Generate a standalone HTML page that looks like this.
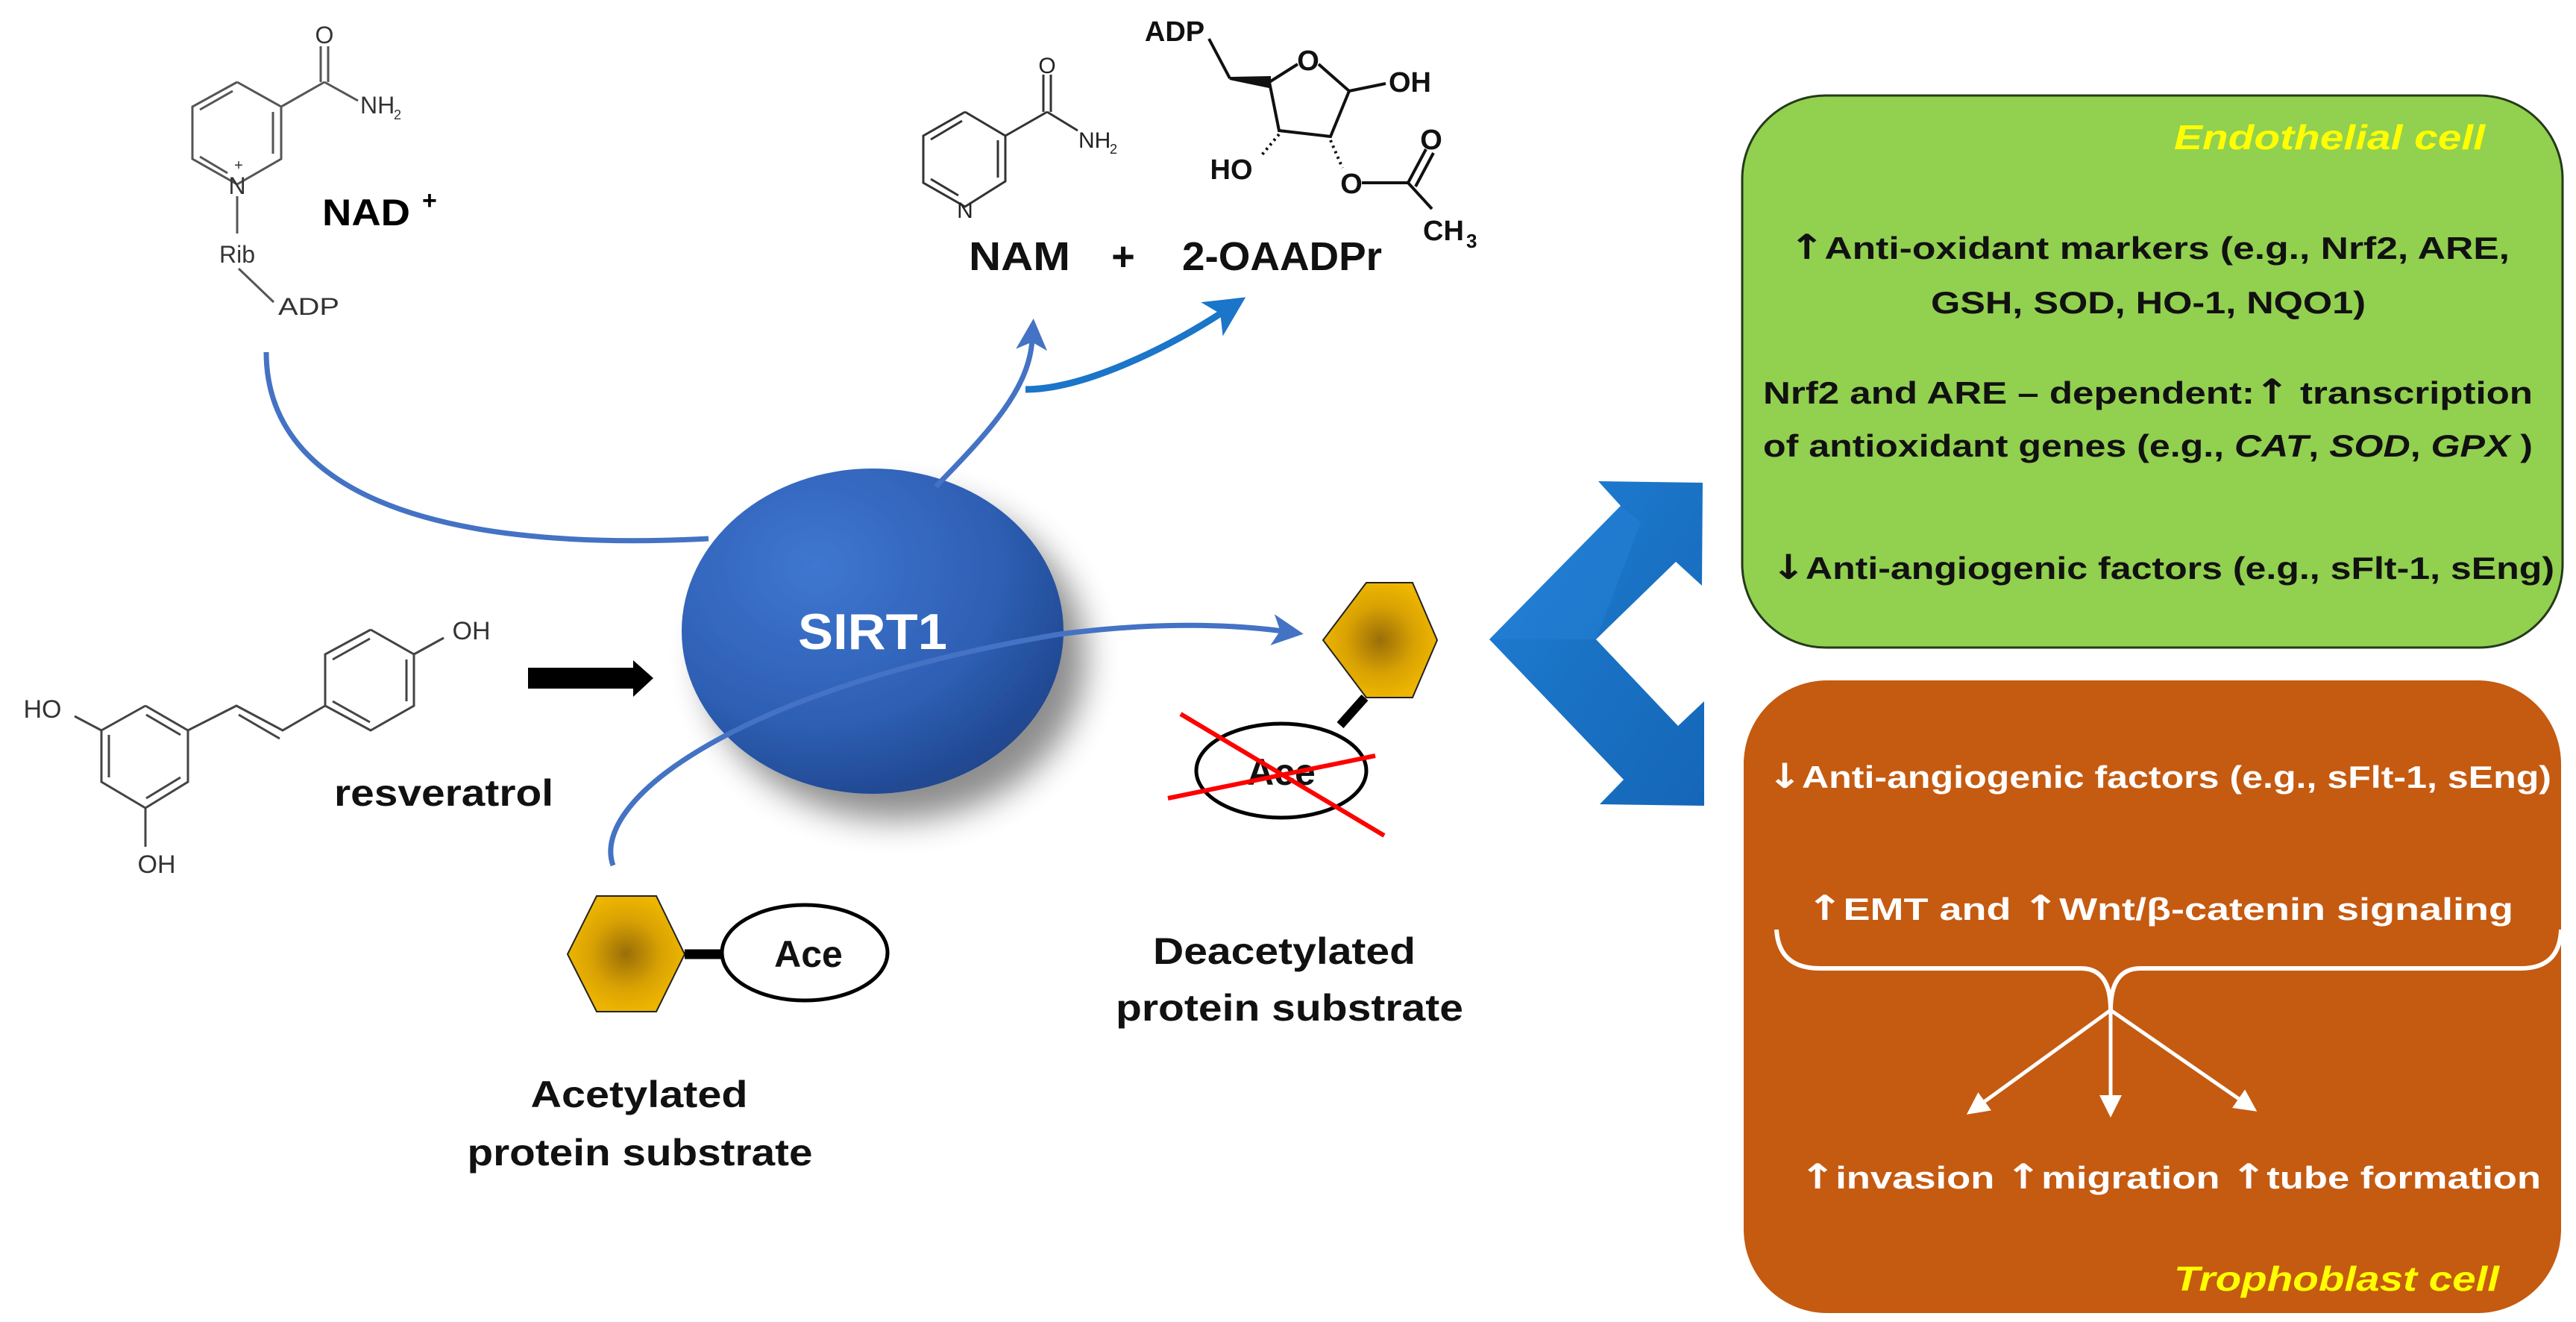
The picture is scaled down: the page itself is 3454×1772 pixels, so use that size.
<!DOCTYPE html>
<html><head><meta charset="utf-8"><style>
html,body{margin:0;padding:0;background:#fff;}
svg{display:block;}
text{font-family:"Liberation Sans",sans-serif;}
.ar{font-family:"DejaVu Sans",sans-serif;font-weight:bold;}
</style></head><body>
<svg width="3454" height="1772" viewBox="0 0 3454 1772" xmlns="http://www.w3.org/2000/svg">
<defs>
<radialGradient id="sirt" cx="0.35" cy="0.3" r="0.8">
<stop offset="0" stop-color="#3f77d0"/><stop offset="0.6" stop-color="#2e5fb4"/><stop offset="1" stop-color="#1d4287"/>
</radialGradient>
<radialGradient id="hex" cx="0.5" cy="0.5" r="0.5">
<stop offset="0" stop-color="#9a6e08"/><stop offset="0.6" stop-color="#d9a203"/><stop offset="1" stop-color="#edb500"/>
</radialGradient>
<linearGradient id="chev" x1="0" y1="0" x2="1" y2="1">
<stop offset="0" stop-color="#1f7fd6"/><stop offset="0.5" stop-color="#1a72c4"/><stop offset="1" stop-color="#1566b8"/>
</linearGradient>
<filter id="sh" x="-30%" y="-30%" width="160%" height="160%">
<feGaussianBlur in="SourceAlpha" stdDeviation="22"/><feOffset dx="30" dy="35"/>
<feComponentTransfer><feFuncA type="linear" slope="0.45"/></feComponentTransfer>
<feMerge><feMergeNode/><feMergeNode in="SourceGraphic"/></feMerge>
</filter>
<marker id="ab" markerWidth="6" markerHeight="6" refX="2" refY="3" orient="auto" markerUnits="strokeWidth">
<path d="M0,0 L6,3 L0,6 L1.5,3 Z" fill="#4472c4"/>
</marker>
<marker id="ab2" markerWidth="6" markerHeight="6" refX="2" refY="3" orient="auto" markerUnits="strokeWidth">
<path d="M0,0 L6,3 L0,6 L1.5,3 Z" fill="#1b75c9"/>
</marker>
<marker id="aw" markerWidth="6" markerHeight="6" refX="4" refY="3" orient="auto" markerUnits="strokeWidth">
<path d="M0,0 L6,3 L0,6 Z" fill="#fff"/>
</marker>
</defs>

<!-- NAD+ structure -->
<g stroke="#555" stroke-width="3" fill="none">
<polyline points="318,110 377,143 377,213 318,247 258,213 258,143 318,110"/>
<line x1="312" y1="122" x2="268" y2="147"/>
<line x1="366" y1="150" x2="366" y2="206"/>
<line x1="268" y1="210" x2="305" y2="232"/>
<line x1="377" y1="143" x2="435" y2="110"/>
<line x1="430" y1="110" x2="430" y2="62"/><line x1="440" y1="110" x2="440" y2="62"/>
<line x1="435" y1="110" x2="480" y2="135"/>
<line x1="318" y1="263" x2="318" y2="313"/>
<line x1="320" y1="360" x2="367" y2="405"/>
</g>
<g fill="#333" font-size="32">
<text x="435" y="58" text-anchor="middle">O</text>
<text x="483" y="152">NH</text><text x="528" y="160" font-size="18">2</text>
<text x="318" y="260" text-anchor="middle">N</text><text x="320" y="228" font-size="20" text-anchor="middle">+</text>
<text x="318" y="352" text-anchor="middle">Rib</text>
<text x="373" y="422" textLength="82" lengthAdjust="spacingAndGlyphs">ADP</text>
</g>
<text x="432" y="302" font-size="50" font-weight="bold" textLength="118" lengthAdjust="spacingAndGlyphs">NAD</text>
<text x="566" y="280" font-size="34" font-weight="bold">+</text>

<!-- NAM -->
<g stroke="#333" stroke-width="3" fill="none">
<polyline points="1294,150 1348,182 1348,243 1294,277 1238,245 1238,182 1294,150"/>
<line x1="1290" y1="162" x2="1248" y2="187"/>
<line x1="1338" y1="188" x2="1338" y2="238"/>
<line x1="1248" y1="240" x2="1285" y2="262"/>
<line x1="1348" y1="182" x2="1404" y2="150"/>
<line x1="1399" y1="150" x2="1399" y2="100"/><line x1="1409" y1="150" x2="1409" y2="100"/>
<line x1="1404" y1="150" x2="1445" y2="175"/>
</g>
<g fill="#222" font-size="30">
<text x="1404" y="98" text-anchor="middle">O</text>
<text x="1446" y="198">NH</text><text x="1488" y="206" font-size="18">2</text>
<text x="1294" y="292" text-anchor="middle">N</text>
</g>
<!-- ADP-ribose -->
<g stroke="#111" stroke-width="4" fill="none">
<line x1="1621" y1="52" x2="1649" y2="105"/>
<path d="M1649,105 L1702,104 L1702,116 Z" fill="#111"/>
<polyline points="1702,110 1740,86"/>
<polyline points="1768,86 1809,122 1784,183 1715,175 1702,110"/>
<line x1="1809" y1="122" x2="1858" y2="112"/>
<line x1="1715" y1="180" x2="1690" y2="210" stroke-dasharray="3,5"/>
<line x1="1784" y1="188" x2="1800" y2="225" stroke-dasharray="3,5"/>
<line x1="1826" y1="245" x2="1888" y2="245"/>
<line x1="1888" y1="245" x2="1912" y2="200"/><line x1="1898" y1="250" x2="1922" y2="205"/>
<line x1="1888" y1="245" x2="1920" y2="280"/>
</g>
<g fill="#111" font-size="38" font-weight="bold">
<text x="1575" y="55" text-anchor="middle">ADP</text>
<text x="1754" y="94" text-anchor="middle">O</text>
<text x="1862" y="123">OH</text>
<text x="1651" y="240" text-anchor="middle">HO</text>
<text x="1812" y="259" text-anchor="middle">O</text>
<text x="1919" y="200" text-anchor="middle">O</text>
<text x="1908" y="322">CH</text><text x="1966" y="332" font-size="26">3</text>
</g>
<g fill="#111" font-size="54" font-weight="bold">
<text x="1299" y="362" textLength="136" lengthAdjust="spacingAndGlyphs">NAM</text>
<text x="1506" y="362" text-anchor="middle">+</text>
<text x="1585" y="362" textLength="268" lengthAdjust="spacingAndGlyphs">2-OAADPr</text>
</g>

<!-- resveratrol -->
<g stroke="#444" stroke-width="3" fill="none">
<polyline points="195,946 252,979 252,1048 195,1083 136,1048 136,979 195,946"/>
<line x1="196" y1="958" x2="242" y2="985"/>
<line x1="146" y1="985" x2="146" y2="1042"/>
<line x1="242" y1="1042" x2="196" y2="1070"/>
<line x1="136" y1="979" x2="100" y2="960"/>
<line x1="195" y1="1083" x2="195" y2="1135"/>
<polyline points="252,979 317,946 379,979 436,946"/>
<line x1="320" y1="958" x2="375" y2="990"/>
<polyline points="497,844 555,877 555,946 497,979 436,946 436,877 497,844"/>
<line x1="496" y1="856" x2="446" y2="884"/>
<line x1="545" y1="884" x2="545" y2="940"/>
<line x1="446" y1="940" x2="496" y2="968"/>
<line x1="555" y1="877" x2="595" y2="855"/>
</g>
<g fill="#333" font-size="34">
<text x="57" y="962" text-anchor="middle">HO</text>
<text x="210" y="1170" text-anchor="middle">OH</text>
<text x="632" y="857" text-anchor="middle">OH</text>
</g>
<text x="448" y="1080" font-size="50" font-weight="bold" fill="#111" textLength="294" lengthAdjust="spacingAndGlyphs">resveratrol</text>
<polygon points="708,895 849,895 849,885 876,909 849,934 849,923 708,923" fill="#000"/>

<!-- curves -->
<path d="M357,472 C357,650 560,742 950,722" stroke="#4472c4" stroke-width="7" fill="none"/>

<!-- SIRT1 -->
<ellipse cx="1170" cy="846" rx="256" ry="218" fill="url(#sirt)" filter="url(#sh)"/>
<text x="1170" y="870" font-size="68" font-weight="bold" fill="#fff" text-anchor="middle" textLength="200" lengthAdjust="spacingAndGlyphs">SIRT1</text>

<path d="M1255,652 C1330,575 1380,520 1384,455" stroke="#4472c4" stroke-width="7" fill="none" marker-end="url(#ab)"/>
<path d="M1375,522 C1450,522 1560,470 1640,418" stroke="#1b75c9" stroke-width="9" fill="none" marker-end="url(#ab2)"/>
<path d="M822,1160 C790,1070 1000,920 1421,850 C1560,832 1660,838 1720,846" stroke="#4472c4" stroke-width="7" fill="none" marker-end="url(#ab)"/>

<!-- deacetylated -->
<polygon points="1832,781 1894,781 1927,858 1894,935 1832,935 1774,858" fill="url(#hex)" stroke="#222" stroke-width="2"/>
<line x1="1830" y1="935" x2="1797" y2="972" stroke="#000" stroke-width="12"/>
<ellipse cx="1718" cy="1033" rx="114" ry="63" fill="#fff" stroke="#000" stroke-width="5"/>
<text x="1718" y="1052" font-size="50" font-weight="bold" text-anchor="middle" fill="#111">Ace</text>
<line x1="1583" y1="957" x2="1856" y2="1120" stroke="#ff0000" stroke-width="6"/>
<line x1="1566" y1="1070" x2="1844" y2="1013" stroke="#ff0000" stroke-width="6"/>
<g font-size="50" font-weight="bold" fill="#111" text-anchor="middle">
<text x="1722" y="1292" textLength="352" lengthAdjust="spacingAndGlyphs">Deacetylated</text>
<text x="1729" y="1368" textLength="466" lengthAdjust="spacingAndGlyphs">protein substrate</text>
</g>

<!-- acetylated -->
<polygon points="800,1201 880,1201 918,1279 880,1356 800,1356 761,1279" fill="url(#hex)" stroke="#222" stroke-width="2"/>
<line x1="918" y1="1279" x2="970" y2="1279" stroke="#000" stroke-width="13"/>
<ellipse cx="1079" cy="1277" rx="111" ry="64" fill="#fff" stroke="#000" stroke-width="5"/>
<text x="1084" y="1296" font-size="50" font-weight="bold" text-anchor="middle" fill="#111">Ace</text>
<g font-size="50" font-weight="bold" fill="#111" text-anchor="middle">
<text x="857" y="1484" textLength="291" lengthAdjust="spacingAndGlyphs">Acetylated</text>
<text x="858" y="1562" textLength="463" lengthAdjust="spacingAndGlyphs">protein substrate</text>
</g>

<!-- chevron -->
<polygon points="1997,857 2173,678 2143,645 2283,647 2282,785 2247,753 2140,857 2250,973 2285,940 2285,1080 2145,1078 2177,1045" fill="url(#chev)"/>
<polygon points="2140,857 1997,857 2173,678 2200,700" fill="#2a88dc" opacity="0.35"/>

<!-- green box -->
<rect x="2336" y="128" width="1100" height="740" rx="112" ry="112" fill="#92d050" stroke="#243a1a" stroke-width="3"/>
<text x="2915" y="200" font-size="46" font-weight="bold" font-style="italic" fill="#ffff00" textLength="417" lengthAdjust="spacingAndGlyphs">Endothelial cell</text>
<g font-size="42" font-weight="bold" fill="#111">
<text x="2399" y="347" textLength="966" lengthAdjust="spacingAndGlyphs"><tspan class="ar" font-size="46">↑</tspan>Anti-oxidant  markers  (e.g., Nrf2, ARE,</text>
<text x="2589" y="420" textLength="583" lengthAdjust="spacingAndGlyphs">GSH, SOD, HO-1, NQO1)</text>
<text x="2364" y="541" textLength="1032" lengthAdjust="spacingAndGlyphs">Nrf2 and  ARE – dependent:<tspan class="ar" font-size="46">↑</tspan>  transcription</text>
<text x="2364" y="612" textLength="1032" lengthAdjust="spacingAndGlyphs">of antioxidant  genes (e.g., <tspan font-style="italic">CAT</tspan>, <tspan font-style="italic">SOD</tspan>, <tspan font-style="italic">GPX</tspan> )</text>
<text x="2375" y="776" textLength="1050" lengthAdjust="spacingAndGlyphs"><tspan class="ar" font-size="46">↓</tspan>Anti-angiogenic  factors (e.g., sFlt-1, sEng)</text>
</g>

<!-- orange box -->
<rect x="2338" y="912" width="1096" height="848" rx="112" ry="112" fill="#c55a11"/>
<g font-size="42" font-weight="bold" fill="#fff">
<text x="2370" y="1056" textLength="1051" lengthAdjust="spacingAndGlyphs"><tspan class="ar" font-size="46">↓</tspan>Anti-angiogenic  factors (e.g., sFlt-1, sEng)</text>
<text x="2422" y="1233" textLength="948" lengthAdjust="spacingAndGlyphs"><tspan class="ar" font-size="46">↑</tspan>EMT   and   <tspan class="ar" font-size="46">↑</tspan>Wnt/β-catenin  signaling</text>
<text x="2413" y="1593" textLength="994" lengthAdjust="spacingAndGlyphs"><tspan class="ar" font-size="46">↑</tspan>invasion  <tspan class="ar" font-size="46">↑</tspan>migration  <tspan class="ar" font-size="46">↑</tspan>tube formation</text>
</g>
<path d="M2382,1246 Q2385,1298 2440,1298 L2790,1298 Q2830,1298 2830,1354 Q2830,1298 2870,1298 L3380,1298 Q3432,1298 3434,1246" stroke="#fff" stroke-width="6" fill="none"/>
<g stroke="#fff" stroke-width="5" fill="none">
<line x1="2830" y1="1354" x2="2645" y2="1488" marker-end="url(#aw)"/>
<line x1="2830" y1="1354" x2="2830" y2="1488" marker-end="url(#aw)"/>
<line x1="2830" y1="1354" x2="3018" y2="1484" marker-end="url(#aw)"/>
</g>
<text x="2915" y="1730" font-size="46" font-weight="bold" font-style="italic" fill="#ffff00" textLength="436" lengthAdjust="spacingAndGlyphs">Trophoblast cell</text>
</svg>
</body></html>
